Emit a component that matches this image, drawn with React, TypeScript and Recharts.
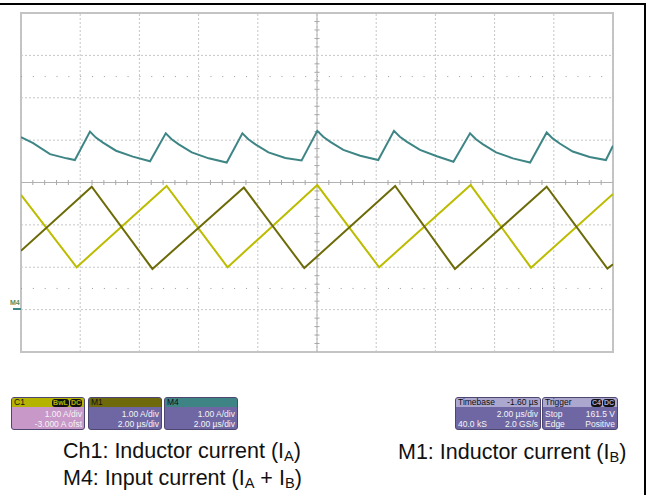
import React from 'react';
import {
  LineChart,
  Line,
  XAxis,
  YAxis,
  ReferenceLine,
  ReferenceArea,
} from 'recharts';

// Time in microseconds, current in amperes (1 A/div, screen centre = 3 A)
const ch1Time = [0, 1.88, 4.92, 6.98, 10.01, 12.1, 15.19, 17.23, 20];
const ch1Current = [2.71, 1.0, 2.92, 1.0, 2.94, 1.0, 2.94, 0.99, 2.73];

const m1Time = [0, 2.39, 4.44, 7.53, 9.57, 12.64, 14.66, 17.76, 19.81, 20];
const m1Current = [1.39, 2.9, 0.96, 2.88, 0.98, 2.92, 0.96, 2.9, 0.97, 1.07];

const m4Time = [
  0, 0.41, 0.98, 1.54, 1.82,
  2.33, 2.53, 2.77, 3.21, 3.78, 4.36,
  4.89, 5.09, 5.33, 5.77, 6.34, 6.95,
  7.48, 7.68, 7.92, 8.36, 8.93, 9.48,
  10.01, 10.21, 10.45, 10.89, 11.46, 12.07,
  12.6, 12.8, 13.04, 13.48, 14.05, 14.61,
  15.17, 15.37, 15.61, 16.05, 16.62, 17.2,
  17.76, 17.96, 18.2, 18.64, 19.21, 19.76,
  20,
];
const m4Current = [
  4.07, 3.93, 3.67, 3.57, 3.53,
  4.2, 4.06, 3.94, 3.75, 3.61, 3.5,
  4.16, 4.02, 3.9, 3.71, 3.57, 3.47,
  4.16, 4.02, 3.9, 3.71, 3.58, 3.52,
  4.22, 4.08, 3.96, 3.77, 3.63, 3.53,
  4.22, 4.08, 3.96, 3.77, 3.62, 3.49,
  4.16, 4.02, 3.9, 3.71, 3.57, 3.47,
  4.18, 4.04, 3.92, 3.73, 3.6, 3.53,
  3.87,
];

const timeTicks = [0, 2, 4, 6, 8, 10, 12, 14, 16, 18, 20];
const currentTicks = [-1, 0, 1, 2, 3, 4, 5, 6, 7];
const dottedRows = [5.5, 0.5];

const toRows = (t: number[], v: number[]) => t.map((x, i) => ({ t: x, v: v[i] }));
const ch1Data = toRows(ch1Time, ch1Current);
const m1Data = toRows(m1Time, m1Current);
const m4Data = toRows(m4Time, m4Current);

// minor graticule marks: 5 per division
const minorTime: number[] = [];
for (let i = 0; i < timeTicks.length - 1; i++) {
  const step = (timeTicks[i + 1] - timeTicks[i]) / 5;
  for (let k = 1; k < 5; k++) minorTime.push(timeTicks[i] + k * step);
}
const minorCurrent: number[] = [];
for (let i = 0; i < currentTicks.length - 1; i++) {
  const step = (currentTicks[i + 1] - currentTicks[i]) / 5;
  for (let k = 1; k < 5; k++) minorCurrent.push(currentTicks[i] + k * step);
}

const FONT = '"Liberation Sans", Arial, sans-serif';
const PURPLE = '#6f67a4';

const Badge = ({ text, color }: { text: string; color: string }) => (
  <span
    style={{
      background: '#111',
      color,
      borderRadius: 3,
      padding: '0 1px',
      marginLeft: 1,
      fontSize: 7,
      lineHeight: '8px',
      fontWeight: 700,
      display: 'inline-block',
    }}
  >
    {text}
  </span>
);

type Row = [string, string];

const InfoBox = ({
  left,
  width,
  headerBg,
  headerLeft,
  headerRight,
  bodyBg,
  rows,
}: {
  left: number;
  width: number;
  headerBg: string;
  headerLeft: string;
  headerRight?: React.ReactNode;
  bodyBg: string;
  rows: Row[];
}) => (
  <div
    style={{
      position: 'absolute',
      left,
      top: 397,
      width,
      height: 33,
      boxSizing: 'border-box',
      border: '1px solid #4c4670',
      borderRadius: 3,
      overflow: 'hidden',
      background: bodyBg,
      fontFamily: FONT,
      fontSize: 8.5,
      color: '#f4f4f4',
    }}
  >
    <div
      style={{
        height: 9,
        background: headerBg,
        color: '#111',
        display: 'flex',
        justifyContent: 'space-between',
        alignItems: 'center',
        padding: '0 2px',
        lineHeight: '9px',
      }}
    >
      <span>{headerLeft}</span>
      <span style={{ display: 'flex' }}>{headerRight}</span>
    </div>
    {rows.map((r, i) => (
      <div
        key={i}
        style={{
          display: 'flex',
          justifyContent: 'space-between',
          padding: '0 2px',
          lineHeight: '10px',
          height: 10,
          marginTop: i === 0 ? 2 : 0,
        }}
      >
        <span>{r[0]}</span>
        <span>{r[1]}</span>
      </div>
    ))}
  </div>
);

const labelStyle: React.CSSProperties = {
  position: 'absolute',
  fontFamily: FONT,
  fontSize: 21.5,
  lineHeight: '24px',
  color: '#111',
  whiteSpace: 'nowrap',
};
const subStyle: React.CSSProperties = {
  fontSize: '0.68em',
  verticalAlign: '-3px',
  lineHeight: 0,
};

export default function App() {
  return (
    <div
      style={{
        position: 'absolute',
        left: 0,
        top: 0,
        width: 651,
        height: 495,
        overflow: 'hidden',
        background: '#fff',
      }}
    >
      <div
        style={{
          position: 'absolute',
          left: -4,
          top: 3,
          width: 650,
          height: 520,
          boxSizing: 'border-box',
          border: '2px solid #000',
        }}
      />
      <div style={{ position: 'absolute', left: 0, top: 0 }}>
        <LineChart
          width={651}
          height={495}
          margin={{ top: 13, right: 38, bottom: 143, left: 21 }}
        >
          <XAxis
            type="number"
            dataKey="t"
            domain={[0, 20]}
            ticks={timeTicks}
            allowDataOverflow
            tick={false}
            tickLine={false}
            axisLine={false}
            height={0}
          />
          <YAxis
            type="number"
            dataKey="v"
            domain={[-1, 7]}
            ticks={currentTicks}
            allowDataOverflow
            tick={false}
            tickLine={false}
            axisLine={false}
            width={0}
          />
          {timeTicks.map((t) => (
            <ReferenceLine
              key={'gx' + t}
              x={t}
              stroke="#c6c6c6"
              strokeDasharray="2 2"
              strokeWidth={1}
            />
          ))}
          {currentTicks.map((c) => (
            <ReferenceLine
              key={'gy' + c}
              y={c}
              stroke="#c6c6c6"
              strokeDasharray="2 2"
              strokeWidth={1}
            />
          ))}
          {dottedRows.map((y) => (
            <ReferenceLine
              key={'d' + y}
              y={y}
              stroke="#9a9a9a"
              strokeDasharray="1 10.84"
              strokeWidth={1}
            />
          ))}
          <ReferenceLine x={10} stroke="#b2b2b2" strokeWidth={1} />
          <ReferenceLine y={3} stroke="#b2b2b2" strokeWidth={1} />
          {minorTime.map((t) => (
            <ReferenceLine
              key={'mt' + t}
              segment={[
                { x: t, y: 2.94 },
                { x: t, y: 3.06 },
              ]}
              stroke="#a8a8a8"
              strokeWidth={1}
            />
          ))}
          {minorCurrent.map((c) => (
            <ReferenceLine
              key={'mc' + c}
              segment={[
                { x: 9.915, y: c },
                { x: 10.085, y: c },
              ]}
              stroke="#a8a8a8"
              strokeWidth={1}
            />
          ))}
          <ReferenceArea
            x1={0}
            x2={20}
            y1={-1}
            y2={7}
            fill="none"
            fillOpacity={0}
            stroke="#c3c3c3"
            strokeWidth={2}
          />
          <Line
            data={m4Data}
            dataKey="v"
            type="linear"
            stroke="#3e8585"
            strokeWidth={2}
            dot={false}
            isAnimationActive={false}
          />
          <Line
            data={ch1Data}
            dataKey="v"
            type="linear"
            stroke="#bcbc00"
            strokeWidth={2}
            dot={false}
            isAnimationActive={false}
          />
          <Line
            data={m1Data}
            dataKey="v"
            type="linear"
            stroke="#6d6b08"
            strokeWidth={2}
            dot={false}
            isAnimationActive={false}
          />
        </LineChart>
      </div>

      {/* M4 reference marker */}
      <div
        style={{
          position: 'absolute',
          left: 10,
          top: 299,
          fontFamily: FONT,
          fontSize: 7,
          lineHeight: '8px',
          color: '#5a8c5a',
          fontWeight: 700,
        }}
      >
        M4
      </div>
      <div
        style={{
          position: 'absolute',
          left: 13,
          top: 308,
          width: 8,
          height: 2,
          background: '#3e8585',
        }}
      />

      <InfoBox
        left={11}
        width={74}
        headerBg="#b3b300"
        headerLeft="C1"
        headerRight={
          <>
            <Badge text="BwL" color="#b3b300" />
            <Badge text="DC" color="#b3b300" />
          </>
        }
        bodyBg="#c898c8"
        rows={[
          ['', '1.00 A/div'],
          ['', '-3.000 A ofst'],
        ]}
      />
      <InfoBox
        left={88}
        width={74}
        headerBg="#6e6a0c"
        headerLeft="M1"
        bodyBg={PURPLE}
        rows={[
          ['', '1.00 A/div'],
          ['', '2.00 µs/div'],
        ]}
      />
      <InfoBox
        left={164}
        width={74}
        headerBg="#3f8484"
        headerLeft="M4"
        bodyBg={PURPLE}
        rows={[
          ['', '1.00 A/div'],
          ['', '2.00 µs/div'],
        ]}
      />
      <InfoBox
        left={455}
        width={86}
        headerBg="#aba7cf"
        headerLeft="Timebase"
        headerRight={<span>-1.60 µs</span>}
        bodyBg={PURPLE}
        rows={[
          ['', '2.00 µs/div'],
          ['40.0 kS', '2.0 GS/s'],
        ]}
      />
      <InfoBox
        left={542}
        width={76}
        headerBg="#aba7cf"
        headerLeft="Trigger"
        headerRight={
          <>
            <Badge text="C4" color="#aba7cf" />
            <Badge text="DC" color="#aba7cf" />
          </>
        }
        bodyBg={PURPLE}
        rows={[
          ['Stop', '161.5 V'],
          ['Edge', 'Positive'],
        ]}
      />

      <div style={{ ...labelStyle, left: 63, top: 438.5 }}>
        Ch1: Inductor current (I<span style={subStyle}>A</span>)
      </div>
      <div style={{ ...labelStyle, left: 63, top: 465.5 }}>
        M4: Input current (I<span style={subStyle}>A</span> + I
        <span style={subStyle}>B</span>)
      </div>
      <div style={{ ...labelStyle, left: 398, top: 439.5 }}>
        M1: Inductor current (I<span style={subStyle}>B</span>)
      </div>
    </div>
  );
}
